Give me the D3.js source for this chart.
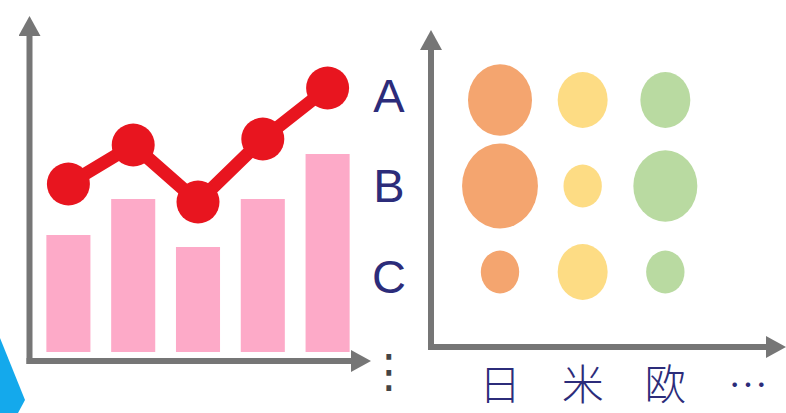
<!DOCTYPE html>
<html>
<head>
<meta charset="utf-8">
<script src="https://cdn.jsdelivr.net/npm/d3@7/dist/d3.min.js"></script>
<style>
  html, body { margin: 0; padding: 0; background: #ffffff; }
  svg { display: block; }
</style>
</head>
<body>
<svg id="chart" width="786" height="413"></svg>
<script>
// ---- data ----
const periods = ["1", "2", "3", "4", "5"];
const barValues = [39, 51, 35, 51, 66];
const lineValues = [56, 69, 50, 71, 88];

const seriesNames = ["A", "B", "C"];
const regions = ["日", "米", "欧", "…"];
const bubbleRegions = ["日", "米", "欧"];
// bubble size per region, ordered A, B, C
const bubbleSizes = {
  "日": [64, 90, 23],
  "米": [39, 23, 39],
  "欧": [39, 64, 23]
};
const bubbleColors = { "日": "#f4a56f", "米": "#fddc84", "欧": "#b9daa1" };

// ---- setup ----
const svg = d3.select("#chart");
const axisColor = "#767676";
const textColor = "#2c2c7a";

const defs = svg.append("defs");
defs.append("marker")
  .attr("id", "arrow")
  .attr("viewBox", "0 0 20 22")
  .attr("refX", 2).attr("refY", 11)
  .attr("markerWidth", 20).attr("markerHeight", 22)
  .attr("markerUnits", "userSpaceOnUse")
  .attr("orient", "auto")
  .append("path")
  .attr("d", "M0,0 L20,11 L0,22 Z")
  .attr("fill", axisColor);

// decorative corner shape
svg.append("path")
  .attr("d", "M0,338 L25,400 L18,413 L0,413 Z")
  .attr("fill", "#14a9ec");

// ---- left panel: bars + line ----
const x = d3.scaleBand().domain(periods).range([36, 360])
  .paddingInner(0.32).paddingOuter(0.16);
const y = d3.scaleLinear().domain([0, 100]).range([352, 52]);

const left = svg.append("g");

left.selectAll("rect.bar")
  .data(periods)
  .join("rect")
  .attr("class", "bar")
  .attr("x", d => x(d))
  .attr("width", x.bandwidth())
  .attr("y", (d, i) => y(barValues[i]))
  .attr("height", (d, i) => y(0) - y(barValues[i]))
  .attr("fill", "#fdaac8");

const line = d3.line()
  .x((d, i) => x(periods[i]) + x.bandwidth() / 2)
  .y(d => y(d));

left.append("path")
  .datum(lineValues)
  .attr("d", line)
  .attr("fill", "none")
  .attr("stroke", "#e8151f")
  .attr("stroke-width", 13)
  .attr("stroke-linejoin", "round");

left.selectAll("circle.pt")
  .data(lineValues)
  .join("circle")
  .attr("class", "pt")
  .attr("cx", (d, i) => x(periods[i]) + x.bandwidth() / 2)
  .attr("cy", d => y(d))
  .attr("r", 21.5)
  .attr("fill", "#e8151f");

// axes of left panel
left.append("line")
  .attr("x1", 29.5).attr("y1", 364).attr("x2", 29.5).attr("y2", 34)
  .attr("stroke", axisColor).attr("stroke-width", 6)
  .attr("marker-end", "url(#arrow)");
left.append("line")
  .attr("x1", 26.5).attr("y1", 361).attr("x2", 353).attr("y2", 361)
  .attr("stroke", axisColor).attr("stroke-width", 6)
  .attr("marker-end", "url(#arrow)");

// series labels
const rowLabel = d3.scalePoint().domain(seriesNames).range([95, 276]);
svg.selectAll("text.series")
  .data(seriesNames)
  .join("text")
  .attr("class", "series")
  .attr("x", 389)
  .attr("y", d => rowLabel(d))
  .attr("dy", "0.36em")
  .attr("text-anchor", "middle")
  .attr("font-family", "'Liberation Sans', Arial, sans-serif")
  .attr("font-size", 47)
  .attr("fill", textColor)
  .text(d => d);

svg.append("text")
  .attr("x", 389).attr("y", 371)
  .attr("text-anchor", "middle")
  .attr("dominant-baseline", "central")
  .attr("font-family", "'DejaVu Sans', sans-serif")
  .attr("font-size", 46)
  .attr("fill", "#444")
  .text("⋮");

// ---- right panel: bubbles ----
const rx = d3.scalePoint().domain(regions).range([500, 748]);
const ry = d3.scalePoint().domain(seriesNames).range([100, 272]);
const r = d3.scaleSqrt().domain([0, 100]).range([0, 40]);

const bubbles = bubbleRegions.flatMap(reg =>
  seriesNames.map((s, i) => ({ reg, s, v: bubbleSizes[reg][i] })));

const right = svg.append("g");
right.selectAll("ellipse")
  .data(bubbles)
  .join("ellipse")
  .attr("cx", d => rx(d.reg))
  .attr("cy", d => ry(d.s))
  .attr("rx", d => r(d.v))
  .attr("ry", d => r(d.v) * 1.12)
  .attr("fill", d => bubbleColors[d.reg]);

right.append("line")
  .attr("x1", 431).attr("y1", 350).attr("x2", 431).attr("y2", 48)
  .attr("stroke", axisColor).attr("stroke-width", 6)
  .attr("marker-end", "url(#arrow)");
right.append("line")
  .attr("x1", 428).attr("y1", 347).attr("x2", 768).attr("y2", 347)
  .attr("stroke", axisColor).attr("stroke-width", 6)
  .attr("marker-end", "url(#arrow)");

right.selectAll("text.region")
  .data(regions)
  .join("text")
  .attr("class", "region")
  .attr("x", d => rx(d))
  .attr("y", 400)
  .attr("text-anchor", "middle")
  .attr("font-family", "'Noto Sans CJK JP', sans-serif")
  .attr("font-weight", 300)
  .attr("font-size", d => d === "…" ? 40 : 42)
  .attr("fill", textColor)
  .text(d => d);
</script>
</body>
</html>
